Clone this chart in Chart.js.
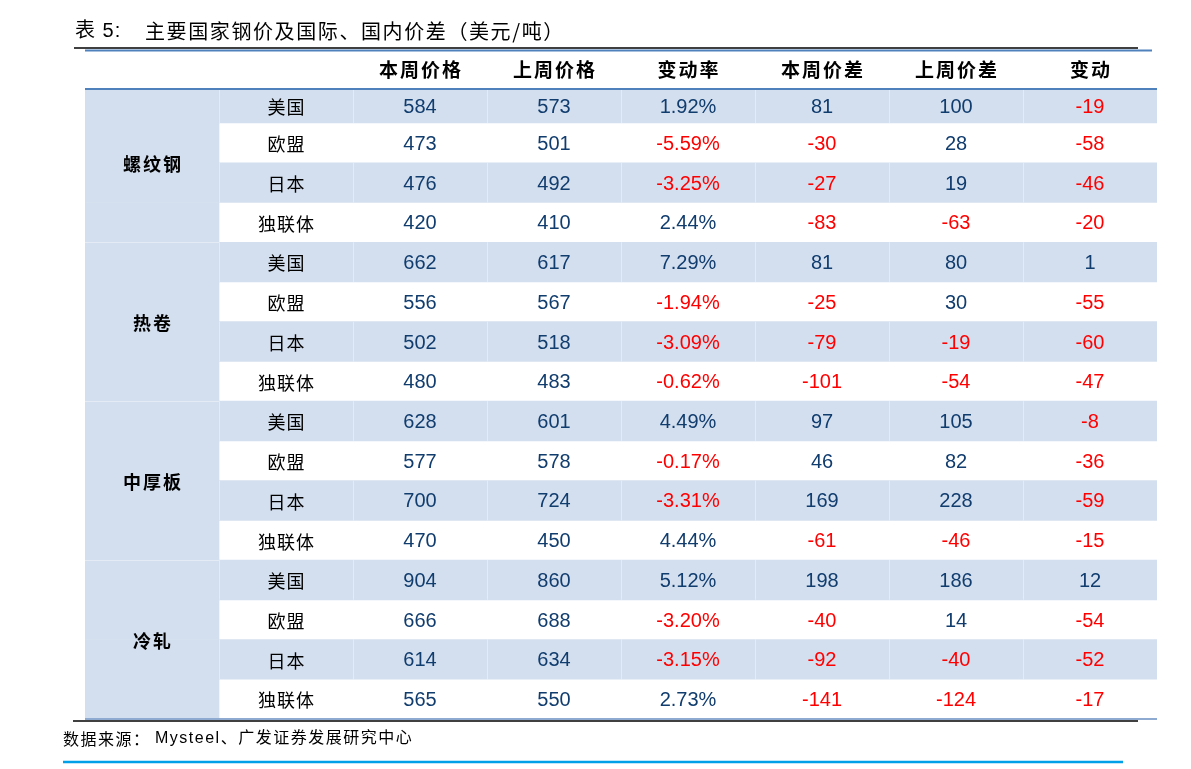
<!DOCTYPE html>
<html>
<head>
<meta charset="utf-8">
<title>主要国家钢价及国际、国内价差</title>
<script src="https://cdn.jsdelivr.net/npm/chart.js@4.4.0/dist/chart.umd.min.js"></script>
<style>
  html, body { margin: 0; padding: 0; background: #fff; }
  canvas { display: block; }
</style>
</head>
<body>
<canvas id="steel-table" width="1191" height="769"></canvas>
<script>
const TITLE_NO = "表 5:";
const TITLE = "主要国家钢价及国际、国内价差（美元/吨）";
const SOURCE_LEAD = "数据来源：";
const SOURCE = "Mysteel、广发证券发展研究中心";

const GROUPS = ["螺纹钢", "热卷", "中厚板", "冷轧"];
const COUNTRIES = ["美国", "欧盟", "日本", "独联体"];
const HEADERS = ["本周价格", "上周价格", "变动率", "本周价差", "上周价差", "变动"];

const thisWeekPrice = [584, 473, 476, 420, 662, 556, 502, 480, 628, 577, 700, 470, 904, 666, 614, 565];
const lastWeekPrice = [573, 501, 492, 410, 617, 567, 518, 483, 601, 578, 724, 450, 860, 688, 634, 550];
const changeRate = [1.92, -5.59, -3.25, 2.44, 7.29, -1.94, -3.09, -0.62, 4.49, -0.17, -3.31, 4.44, 5.12, -3.20, -3.15, 2.73];
const thisWeekSpread = [81, -30, -27, -83, 81, -25, -79, -101, 97, 46, 169, -61, 198, -40, -92, -141];
const lastWeekSpread = [100, 28, 19, -63, 80, 30, -19, -54, 105, 82, 228, -46, 186, 14, -40, -124];
const spreadChange = [-19, -58, -46, -20, 1, -55, -60, -47, -8, -36, -59, -15, 12, -54, -52, -17];

const COLUMNS = [thisWeekPrice, lastWeekPrice, changeRate, thisWeekSpread, lastWeekSpread, spreadChange];

const BLUE_FILL = "#d3dfee";
const NAVY = "#103c6e";
const RED = "#ff0000";
const CJK = "'Noto Sans CJK SC'";
const MIXED = "'Liberation Sans', 'Noto Sans CJK SC'";

// one row per group/country pair
const rows = GROUPS.flatMap((g) => COUNTRIES.map((c) => ({ group: g, country: c })));
const stripeData = rows.map((r, i) => (i % 2 === 0 ? { y: i + 0.5, x: [1, 8] } : null)).filter(Boolean);
const groupColData = rows.map((r, i) => ({ y: i + 0.5, x: [0, 1] }));

function fmt(col, v) {
  return col === 2 ? v.toFixed(2) + "%" : String(v);
}

function text(ctx, str, x, y, font, color, align, spacing) {
  ctx.font = font;
  ctx.fillStyle = color;
  ctx.textAlign = align || "center";
  ctx.textBaseline = "middle";
  ctx.letterSpacing = spacing || "0px";
  let dx = 0;
  if ((align || "center") === "center" && spacing) dx = parseFloat(spacing) / 2;
  ctx.fillText(str, x + dx, y);
  ctx.letterSpacing = "0px";
}

function line(ctx, x0, x1, y, color, width) {
  ctx.beginPath();
  ctx.strokeStyle = color;
  ctx.lineWidth = width;
  ctx.moveTo(x0, y);
  ctx.lineTo(x1, y);
  ctx.stroke();
}

const tablePlugin = {
  id: "tablePlugin",
  afterDatasetsDraw(chart) {
    const { ctx, scales: { x, y } } = chart;
    const headerLine = 89;
    ctx.save();

    // header area stays white above the first body row
    ctx.fillStyle = "#fff";
    ctx.fillRect(x.left - 1, y.top - 2, x.right - x.left + 2, headerLine - y.top + 2);

    // faint cell separators
    ctx.strokeStyle = "rgba(255,255,255,0.38)";
    ctx.lineWidth = 1;
    for (let g = 1; g < GROUPS.length; g++) {
      const py = Math.round(y.getPixelForValue(g * 4)) + 0.5;
      ctx.beginPath();
      ctx.moveTo(x.getPixelForValue(0), py);
      ctx.lineTo(x.getPixelForValue(1), py);
      ctx.stroke();
    }
    rows.forEach((r, i) => {
      if (i % 2 !== 0) return;
      const top = Math.max(y.getPixelForValue(i), headerLine);
      const bottom = y.getPixelForValue(i + 1);
      for (let c = 1; c < 8; c++) {
        const px = Math.round(x.getPixelForValue(c)) + 0.5;
        ctx.beginPath();
        ctx.moveTo(px, top);
        ctx.lineTo(px, bottom);
        ctx.stroke();
      }
    });

    // title and its rules
    text(ctx, TITLE_NO, 75, 31, "20px " + MIXED, "#000", "left", "1px");
    text(ctx, TITLE, 145, 31, "20px " + CJK, "#000", "left", "1.6px");
    line(ctx, 74, 1138, 48, "#000", 1.5);
    line(ctx, x.left, 1152, 50.5, "#4f81bd", 2);

    // header row
    HEADERS.forEach((h, c) => {
      text(ctx, h, x.getPixelForValue(c + 2.5), 70, "bold 19px " + CJK, "#000", "center", "2px");
    });
    line(ctx, x.left, x.right, headerLine, "#4f81bd", 2);

    // body
    const nudge = 1.5;
    const rowCenter = (i) =>
      (i === 0 ? (headerLine + y.getPixelForValue(1)) / 2 : y.getPixelForValue(i + 0.5)) + nudge;

    GROUPS.forEach((g, gi) => {
      text(ctx, g, x.getPixelForValue(0.5), y.getPixelForValue(gi * 4 + 2) + nudge, "bold 18px " + CJK, "#000", "center", "2px");
    });

    rows.forEach((r, i) => {
      const cy = rowCenter(i);
      text(ctx, r.country, x.getPixelForValue(1.5), cy, "18px " + CJK, "#000", "center", "1px");
      COLUMNS.forEach((col, c) => {
        const v = col[i];
        text(ctx, fmt(c, v), x.getPixelForValue(c + 2.5), cy, "20px 'Liberation Sans'", v < 0 ? RED : NAVY, "center");
      });
    });

    // bottom rules and source
    line(ctx, x.left, x.right, y.bottom, "#8eaad0", 2);
    line(ctx, 73, 1138, y.bottom + 2, "#000", 1.5);
    text(ctx, SOURCE_LEAD, 63, 739, "16px " + CJK, "#000", "left", "1.5px");
    text(ctx, SOURCE, 155, 739, "16px " + MIXED, "#000", "left", "1.5px");
    line(ctx, 63, 1123, 762, "#00a0e9", 2.5);

    ctx.restore();
  },
};

new Chart(document.getElementById("steel-table"), {
  type: "bar",
  data: {
    datasets: [
      {
        label: "stripes",
        data: stripeData,
        backgroundColor: BLUE_FILL,
        borderWidth: 0,
        grouped: false,
        barPercentage: 1,
        categoryPercentage: 1,
      },
      {
        label: "groups",
        data: groupColData,
        backgroundColor: BLUE_FILL,
        borderWidth: 0,
        grouped: false,
        barPercentage: 1,
        categoryPercentage: 1,
      },
    ],
  },
  options: {
    indexAxis: "y",
    responsive: false,
    animation: false,
    devicePixelRatio: 1,
    layout: {
      padding: { left: 85, right: 34, top: 83.3, bottom: 50 },
    },
    scales: {
      x: { type: "linear", min: 0, max: 8, offset: false, display: false },
      y: { type: "linear", min: 0, max: 16, reverse: true, offset: false, display: false, ticks: { stepSize: 1 } },
    },
    plugins: {
      legend: { display: false },
      tooltip: { enabled: false },
    },
  },
  plugins: [tablePlugin],
});
</script>
</body>
</html>
